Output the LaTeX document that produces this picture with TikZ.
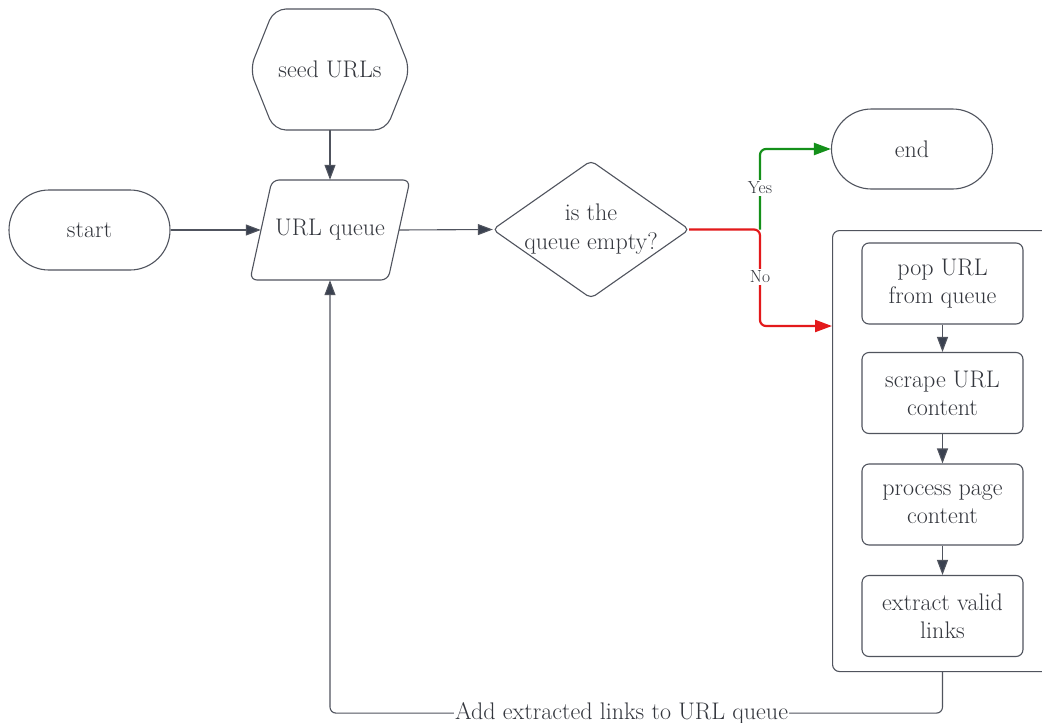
\documentclass[tikz,border=0pt]{standalone}
\usetikzlibrary{arrows.meta,calc}
\definecolor{ln}{HTML}{50545E}
\definecolor{ah}{HTML}{3A4150}
\definecolor{tx}{HTML}{33363D}
\definecolor{gr}{HTML}{14901A}
\definecolor{rd}{HTML}{E3191B}
\begin{document}
\begin{tikzpicture}[x=1pt,y=-1pt,
  every node/.style={text=tx, font=\fontsize{24}{28}\selectfont, align=center},
  shp/.style={draw=ln, line width=1.1pt},
  stad/.style={shp, rounded corners=40pt, minimum width=161pt, minimum height=80pt},
  proc/.style={shp, rounded corners=7pt, minimum width=161pt, minimum height=81pt},
  ghost/.style={draw=none, inner sep=0pt},
  conn/.style={draw=ln, line width=1.1pt, -{Triangle[length=15pt,width=11pt,fill=ah]}},
  yesline/.style={draw=gr, line width=2.2pt, rounded corners=6pt, -{Triangle[length=17pt,width=12pt]}},
  noline/.style={draw=rd, line width=2.2pt, rounded corners=6pt, -{Triangle[length=17pt,width=12pt]}},
  lbl/.style={fill=white, inner sep=2pt, font=\fontsize{17.5}{20}\selectfont}
]
\clip (0,0) rectangle (1042,723);
\fill[white] (0,0) rectangle (1042,723);

% nodes
\node[stad] (start) at (89.5,230) {start};
\node[ghost, minimum width=160pt, minimum height=121pt] (seed) at (330,69.5) {seed URLs};
\draw[shp, rounded corners=12pt] (seed.west) -- (274,9) -- (386,9) -- (seed.east) -- (386,130) -- (274,130) -- cycle;
\node[ghost, minimum width=138pt, minimum height=100pt] (queue) at (330,230) {URL queue};
\draw[shp, rounded corners=7pt] (272,180) -- (410,180) -- (388,280) -- (250,280) -- cycle;
\node[ghost, minimum width=196pt, minimum height=137pt] (dec) at (591,229.5)
  {\raisebox{5pt}{\begin{tabular}{@{}c@{}}is the\\[1pt]queue empty?\end{tabular}}};
\draw[shp, rounded corners=5pt] (dec.north) -- (dec.east) -- (dec.south) -- (dec.west) -- cycle;
\node[stad] (end) at (912,149) {end};
\node[shp, rounded corners=7pt, minimum width=240pt, minimum height=441pt, anchor=north west] (grp) at (832,230) {};
\node[proc] (pop) at (942.5,283.5) {pop URL\\from queue};
\node[proc] (scrape) at (942.5,393) {scrape URL\\content};
\node[proc] (process) at (942.5,504.5) {process page\\content};
\node[proc] (extract) at (942.5,616) {extract valid\\links};

\coordinate (split) at (760,229.5);
\coordinate (noin) at (832,326);

% connectors
\draw[conn] (start.east) -- (queue.west);
\draw[conn] (seed.south) -- (queue.north);
\draw[conn] (queue.east) -- (dec.west);
\draw[yesline] (split) |- (end.west);
\draw[noline] (dec.east) -- (split) |- (noin);
\node[lbl] (yes) at (760,188) {Yes};
\node[lbl] (no) at (760,277) {No};
\draw[conn] (pop) -- (scrape);
\draw[conn] (scrape) -- (process);
\draw[conn] (process) -- (extract);
\draw[conn, rounded corners=6pt] (extract.south |- grp.south) -- ++(0,41) -| (queue.south)
  node[pos=0.262, fill=white, inner sep=1pt] (loopl) {Add extracted links to URL queue};
\end{tikzpicture}
\end{document}
